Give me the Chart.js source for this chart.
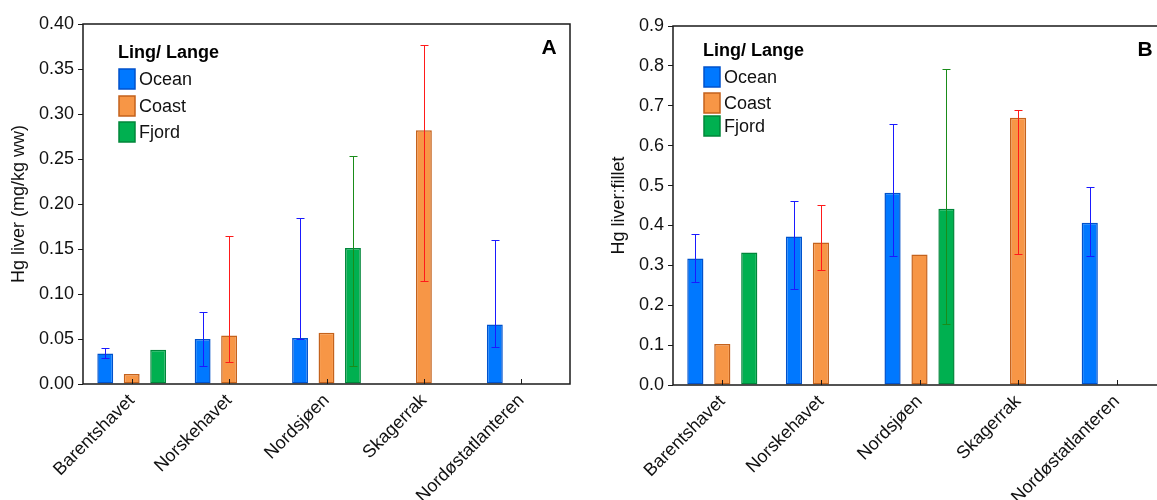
<!DOCTYPE html>
<html lang="no">
<head>
<meta charset="UTF-8">
<title>Hg i lever, lange</title>
<script src="https://cdn.jsdelivr.net/npm/chart.js@4/dist/chart.umd.min.js"></script>
<style>
  html, body { margin: 0; padding: 0; background: #fff; overflow: hidden; }
  body { width: 1157px; height: 500px; position: relative; }
  canvas { position: absolute; top: 0; }
  #chartA { left: 0; }
  #chartB { left: 580px; }
</style>
</head>
<body>
<canvas id="chartA" width="580" height="500"></canvas>
<canvas id="chartB" width="600" height="500"></canvas>
<script>
const regions = ['Barentshavet', 'Norskehavet', 'Nordsjøen', 'Skagerrak', 'Nordøstatlanteren'];
const seriesNames = ['Ocean', 'Coast', 'Fjord'];

// A: Hg liver (mg/kg ww), mean with error bars
const oceanA = [0.034, 0.050, 0.051, null, 0.066];
const coastA = [0.011, 0.054, 0.057, 0.282, null];
const fjordA = [0.038, null, 0.151, null, null];
const oceanA_lo = [0.029, 0.020, 0.050, null, 0.041];
const oceanA_hi = [0.040, 0.080, 0.184, null, 0.160];
const coastA_lo = [null, 0.025, null, 0.114, null];
const coastA_hi = [null, 0.165, null, 0.377, null];
const fjordA_lo = [null, null, 0.020, null, null];
const fjordA_hi = [null, null, 0.253, null, null];

// B: Hg liver:fillet ratio
const oceanB = [0.317, 0.372, 0.482, null, 0.407];
const coastB = [0.103, 0.357, 0.327, 0.670, null];
const fjordB = [0.332, null, 0.442, null, null];
const oceanB_lo = [0.258, 0.240, 0.323, null, 0.323];
const oceanB_hi = [0.378, 0.462, 0.654, null, 0.497];
const coastB_lo = [null, 0.289, null, 0.328, null];
const coastB_hi = [null, 0.451, null, 0.689, null];
const fjordB_lo = [null, null, 0.152, null, null];
const fjordB_hi = [null, null, 0.793, null, null];

const fills = ['#0078ff', '#f79646', '#00b050'];
const borders = ['#0052cc', '#c4621c', '#00863a'];
const errColors = ['#1a1aff', '#ff1a1a', '#1a8c1a'];

const FONT = "'Liberation Sans', Arial, sans-serif";
Chart.defaults.font.family = FONT;
Chart.defaults.color = '#111';

function makeSets(vals, los, his) {
  return vals.map((v, i) => ({
    label: seriesNames[i],
    data: v,
    errLow: los[i],
    errHigh: his[i],
    errColor: errColors[i],
    backgroundColor: fills[i],
    borderColor: borders[i],
    borderWidth: 1.5,
    borderSkipped: false
  }));
}

// frame, inward x ticks, error bars, legend and panel letter
const decor = {
  id: 'decor',
  afterDatasetsDraw(chart) {
    const { ctx, scales: { y } } = chart;
    chart.data.datasets.forEach((ds, i) => {
      chart.getDatasetMeta(i).data.forEach((bar, j) => {
        const lo = ds.errLow[j], hi = ds.errHigh[j];
        if (lo == null || hi == null) return;
        const x = Math.round(bar.x) + 0.5;
        const yl = Math.round(y.getPixelForValue(lo)) + 0.5;
        const yh = Math.round(y.getPixelForValue(hi)) + 0.5;
        ctx.save();
        ctx.strokeStyle = ds.errColor;
        ctx.lineWidth = 1;
        ctx.beginPath();
        ctx.moveTo(x, yl); ctx.lineTo(x, yh);
        ctx.moveTo(x - 4, yl); ctx.lineTo(x + 4, yl);
        ctx.moveTo(x - 4, yh); ctx.lineTo(x + 4, yh);
        ctx.stroke();
        ctx.restore();
      });
    });
  },
  afterDraw(chart, args, opts) {
    const { ctx, chartArea: a, scales: { x } } = chart;
    ctx.save();
    ctx.strokeStyle = '#1a1a1a';
    ctx.lineWidth = 1.5;
    ctx.strokeRect(a.left, a.top, a.right - a.left, a.bottom - a.top);
    ctx.lineWidth = 1;
    x.ticks.forEach((t, i) => {
      const px = Math.round(x.getPixelForTick(i)) + 0.5;
      ctx.beginPath();
      ctx.moveTo(px, a.bottom);
      ctx.lineTo(px, a.bottom - 5);
      ctx.stroke();
    });

    // panel letter
    ctx.fillStyle = '#000';
    ctx.font = 'bold 21px ' + FONT;
    ctx.textAlign = 'center';
    ctx.textBaseline = 'middle';
    ctx.fillText(opts.letter, a.right - 21, a.top + 24);

    // legend
    const lx = a.left + opts.legendX;
    ctx.textAlign = 'left';
    ctx.font = 'bold 18px ' + FONT;
    ctx.fillText('Ling/ Lange', lx, a.top + opts.titleY);
    ctx.font = '18px ' + FONT;
    chart.data.datasets.forEach((ds, i) => {
      const cy = a.top + opts.rowY[i];
      ctx.fillStyle = ds.backgroundColor;
      ctx.fillRect(lx + 1, cy - 10, 16, 20);
      ctx.strokeStyle = ds.borderColor;
      ctx.lineWidth = 1.5;
      ctx.strokeRect(lx + 1, cy - 10, 16, 20);
      ctx.fillStyle = '#111';
      ctx.fillText(ds.label, lx + 21, cy + 1);
    });
    ctx.restore();
  }
};

function makeChart(id, sets, cfg) {
  return new Chart(document.getElementById(id), {
    type: 'bar',
    data: { labels: regions, datasets: sets },
    options: {
      responsive: false,
      animation: false,
      devicePixelRatio: 1,
      layout: { padding: { top: cfg.top, right: cfg.right, left: 0, bottom: 0 } },
      datasets: { bar: { categoryPercentage: cfg.catPct, barPercentage: 0.6 } },
      plugins: {
        legend: { display: false },
        tooltip: { enabled: false },
        decor: cfg.decor
      },
      scales: {
        x: {
          grid: { display: false, drawTicks: false },
          border: { display: false },
          ticks: { font: { size: 18 }, minRotation: 45, maxRotation: 45, padding: 6, color: '#111' },
          afterFit: s => { s.height = cfg.xHeight; }
        },
        y: {
          min: 0,
          max: cfg.max,
          grid: { display: true, drawOnChartArea: false, drawTicks: true, tickLength: 5, color: '#1a1a1a' },
          border: { display: false },
          ticks: {
            stepSize: cfg.step,
            font: { size: 18 },
            padding: 4,
            color: '#111',
            callback: v => v.toFixed(cfg.dec)
          },
          title: { display: true, text: cfg.title, font: { size: 18 }, padding: { top: cfg.titlePad, bottom: 0 }, color: '#111' },
          afterFit: s => { s.width = cfg.yWidth; }
        }
      }
    },
    plugins: [decor]
  });
}

makeChart('chartA',
  makeSets([oceanA, coastA, fjordA], [oceanA_lo, coastA_lo, fjordA_lo], [oceanA_hi, coastA_hi, fjordA_hi]),
  { top: 24, right: 10, xHeight: 116, yWidth: 83, max: 0.4, step: 0.05, dec: 2, catPct: 0.815,
    title: 'Hg liver (mg/kg ww)', titlePad: 8,
    decor: { letter: 'A', legendX: 35, titleY: 29, rowY: [55, 82, 108] } });

makeChart('chartB',
  makeSets([oceanB, coastB, fjordB], [oceanB_lo, coastB_lo, fjordB_lo], [oceanB_hi, coastB_hi, fjordB_hi]),
  { top: 26, right: 14, xHeight: 115, yWidth: 93, max: 0.9, step: 0.1, dec: 1, catPct: 0.82,
    title: 'Hg liver:fillet', titlePad: 28,
    decor: { letter: 'B', legendX: 30, titleY: 25, rowY: [51, 77, 100] } });
</script>
</body>
</html>
